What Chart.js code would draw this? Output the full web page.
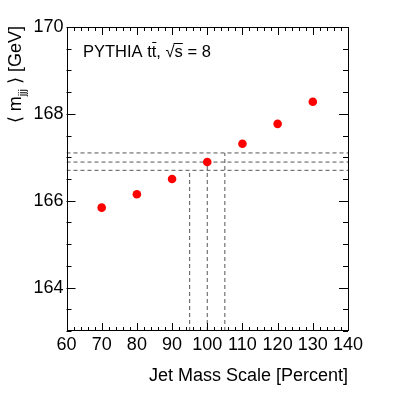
<!DOCTYPE html>
<html>
<head>
<meta charset="utf-8">
<script src="https://cdn.jsdelivr.net/npm/chart.js@4/dist/chart.umd.min.js"></script>
<style>
  html, body { margin: 0; padding: 0; background: #fff; }
  canvas { display: block; }
</style>
</head>
<body>
<canvas id="c" width="415" height="395"></canvas>
<script>
// ---- data ----
const jmsPercent = [70, 80, 90, 100, 110, 120, 130];
const meanMjjj   = [165.84, 166.15, 166.50, 166.89, 167.31, 167.77, 168.28];
const calibPercent = [95, 100, 105];
const calibMass    = [166.70, 166.89, 167.10];
const xTickLabels = [60, 70, 80, 90, 100, 110, 120, 130, 140];
const yTickLabels = [164, 166, 168, 170];
const xRange = [60, 140];
const yRange = [163, 170];
const xTitle = 'Jet Mass Scale [Percent]';
const yTitleParts = ['\u27E8 m', 'jjj', ' \u27E9 [GeV]'];
const labelParts = ['PYTHIA t', 't', ', ', '\u221A', 's', ' = 8'];

const FONT = '"Liberation Sans", Arial, Helvetica, sans-serif';

// dashed calibration lines
const dashDatasets = [];
calibMass.forEach((m) => {
  dashDatasets.push({
    type: 'line', data: [{x: xRange[0], y: m}, {x: xRange[1], y: m}],
    borderColor: '#555', borderWidth: 1, borderDash: [4, 3],
    pointRadius: 0, fill: false, tension: 0
  });
});
calibPercent.forEach((p, i) => {
  dashDatasets.push({
    type: 'line', data: [{x: p, y: yRange[0]}, {x: p, y: calibMass[i]}],
    borderColor: '#555', borderWidth: 1, borderDash: [4, 3],
    pointRadius: 0, fill: false, tension: 0
  });
});

const framePlugin = {
  id: 'frame',
  afterDraw(chart) {
    const ctx = chart.ctx;
    const a = chart.chartArea;
    const xs = chart.scales.x, ys = chart.scales.y;
    ctx.save();
    ctx.strokeStyle = '#000';
    ctx.lineWidth = 1;
    // frame
    ctx.strokeRect(Math.round(a.left) + 0.5, Math.round(a.top) + 0.5,
                   Math.round(a.right - a.left) - 1, Math.round(a.bottom - a.top) - 1);
    // x ticks (inside, bottom and top)
    ctx.beginPath();
    for (let v = xRange[0]; v <= xRange[1] + 1e-9; v += 2) {
      const px = Math.round(xs.getPixelForValue(v)) + 0.5;
      const major = Math.abs(v % 10) < 1e-9;
      const len = major ? 8 : 4;
      ctx.moveTo(px, a.bottom); ctx.lineTo(px, a.bottom - len);
      ctx.moveTo(px, a.top); ctx.lineTo(px, a.top + len);
    }
    // y ticks (inside, left and right)
    for (let v = yRange[0]; v <= yRange[1] + 1e-9; v += 0.5) {
      const py = Math.round(ys.getPixelForValue(v)) + 0.5;
      const major = Math.abs(v % 2) < 1e-9;
      const len = major ? 9 : 5;
      ctx.moveTo(a.left, py); ctx.lineTo(a.left + len, py);
      ctx.moveTo(a.right, py); ctx.lineTo(a.right - len, py);
    }
    ctx.stroke();

    ctx.fillStyle = '#000';
    // x title
    ctx.font = '18px ' + FONT;
    ctx.textAlign = 'right';
    ctx.textBaseline = 'alphabetic';
    ctx.fillText(xTitle, a.right, 381);

    // y title (rotated), right-aligned at top of plot
    const big = '18px ' + FONT, small = '11px ' + FONT;
    ctx.font = big; const w0 = ctx.measureText(yTitleParts[0]).width;
    ctx.font = small; const w1 = ctx.measureText(yTitleParts[1]).width;
    ctx.font = big; const w2 = ctx.measureText(yTitleParts[2]).width;
    const W = w0 + w1 + w2;
    ctx.save();
    ctx.translate(21, 0);
    ctx.rotate(-Math.PI / 2);
    ctx.textAlign = 'left';
    let u = -(a.top - 1) - W;
    ctx.font = big; ctx.fillText(yTitleParts[0], u, 0); u += w0;
    ctx.font = small; ctx.fillText(yTitleParts[1], u, 5); u += w1;
    ctx.font = big; ctx.fillText(yTitleParts[2], u, 0);
    ctx.restore();

    // label
    ctx.font = '16.5px ' + FONT;
    ctx.textAlign = 'left';
    let x = 83; const by = 57;
    labelParts.forEach((s, i) => {
      const w = ctx.measureText(s).width;
      ctx.fillText(s, x, by);
      if (i === 1) { // t-bar
        ctx.beginPath(); ctx.moveTo(x + 0.5, by - 14.5); ctx.lineTo(x + w, by - 14.5); ctx.stroke();
      }
      if (i === 4) { // sqrt overline
        ctx.beginPath(); ctx.moveTo(x - 1, by - 13.5); ctx.lineTo(x + w, by - 13.5); ctx.stroke();
      }
      x += w;
    });
    ctx.restore();
  }
};

new Chart(document.getElementById('c'), {
  type: 'scatter',
  data: {
    datasets: [
      {
        data: jmsPercent.map((p, i) => ({x: p, y: meanMjjj[i]})),
        backgroundColor: '#ff0000', borderColor: '#ff0000', borderWidth: 0,
        pointRadius: 4.3, pointHoverRadius: 4.3
      },
      ...dashDatasets
    ]
  },
  options: {
    responsive: false,
    animation: false,
    events: [],
    layout: { padding: { left: 0, right: 67, top: 27, bottom: 0 } },
    plugins: { legend: { display: false }, tooltip: { enabled: false }, title: { display: false } },
    scales: {
      x: {
        type: 'linear', min: xRange[0], max: xRange[1],
        afterBuildTicks: (s) => { s.ticks = xTickLabels.map(v => ({value: v})); },
        afterFit: (s) => { s.height = 64; },
        grid: { display: false, drawTicks: false },
        border: { display: false },
        ticks: { color: '#000', padding: 3, maxRotation: 0, autoSkip: false,
                 font: { family: FONT, size: 18 } }
      },
      y: {
        type: 'linear', min: yRange[0], max: yRange[1],
        afterBuildTicks: (s) => { s.ticks = yTickLabels.map(v => ({value: v})); },
        afterFit: (s) => { s.width = 66.5; },
        grid: { display: false, drawTicks: false },
        border: { display: false },
        ticks: { color: '#000', padding: 3,
                 font: { family: FONT, size: 18 } }
      }
    }
  },
  plugins: [framePlugin]
});
</script>
</body>
</html>
